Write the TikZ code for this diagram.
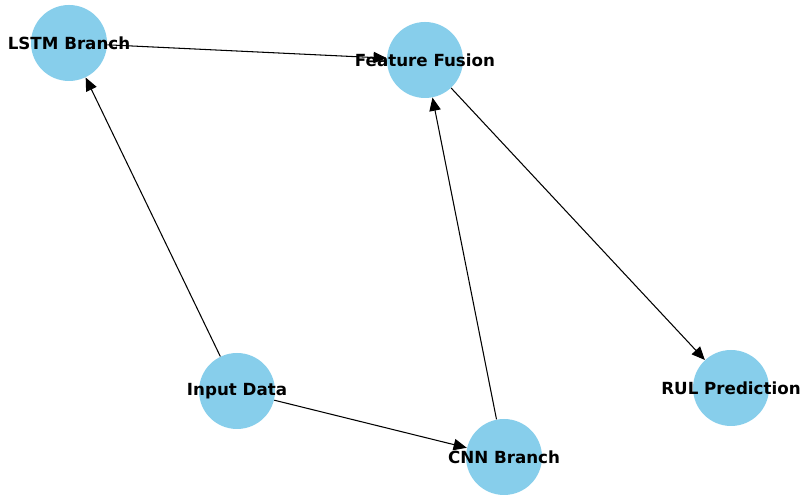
\documentclass[tikz,border=0pt]{standalone}
\usepackage{fontspec}
\setmainfont{DejaVu Sans}
\usepackage{tikz}
\usetikzlibrary{arrows.meta}
\definecolor{skyblue}{RGB}{135,206,235}

\begin{document}
\begin{tikzpicture}[
    blob/.style={circle, fill=skyblue, minimum size=1.52cm, inner sep=0pt},
    lbl/.style={font=\bfseries\fontsize{9.5}{11}\selectfont},
    edge/.style={-{Triangle[length=7.5pt,width=6.5pt]}, line width=0.6pt}
  ]
    \useasboundingbox (0,0) rectangle (16,10);
	\node[blob] (lstm) at (1.38,9.14) {};
	\node[blob] (fusion) at (8.5,8.8) {};
	\node[blob] (input) at (4.74,2.18) {};
	\node[blob] (cnn) at (10.08,0.86) {};
	\node[blob] (rul) at (14.62,2.24) {};
	\draw[edge] (input) -- (lstm);
	\draw[edge] (input) -- (cnn);
	\draw[edge] (lstm) -- (fusion);
	\draw[edge] (cnn) -- (fusion);
	\draw[edge] (fusion) -- (rul);
	\node[lbl] (lstmtxt) at (lstm) {LSTM Branch};
	\node[lbl] (fusiontxt) at (fusion) {Feature Fusion};
	\node[lbl] (inputtxt) at (input) {Input Data};
	\node[lbl] (cnntxt) at (cnn) {CNN Branch};
	\node[lbl] (rultxt) at (rul) {RUL Prediction};
\end{tikzpicture}
\end{document}
